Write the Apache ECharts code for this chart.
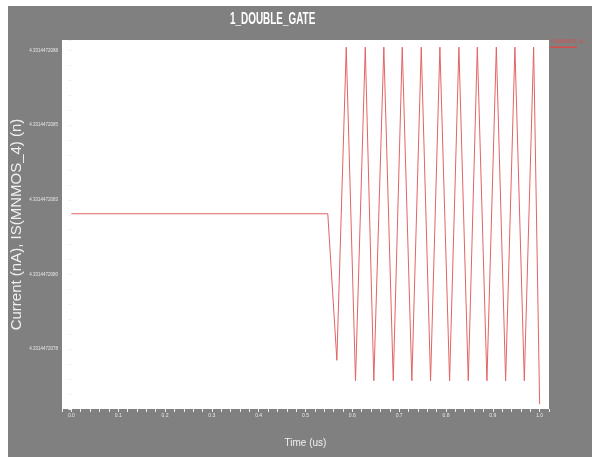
<!DOCTYPE html>
<html>
<head>
<meta charset="utf-8">
<script src="https://cdn.jsdelivr.net/npm/echarts@6/dist/echarts.min.js"></script>
<style>
html,body{margin:0;padding:0;background:#ffffff;}
#chart{position:absolute;left:8px;top:6px;width:584px;height:451px;}
</style>
</head>
<body>
<div id="chart"></div>
<script>
// Time (us)
const timeUs = [0, 0.5476, 0.567, 0.587, 0.6068, 0.6276, 0.6459, 0.6673, 0.6874, 0.7066, 0.7271,
  0.7472, 0.7671, 0.787, 0.8077, 0.8276, 0.8476, 0.8669, 0.8874, 0.9075, 0.9274, 0.9472, 0.9673, 0.9872, 1.0];
// Current (nA), IS(MNMOS_4)
const currentNA = [4.3314472082035, 4.3314472082035, 4.331447207713,
  4.331447208761, 4.3314472076445, 4.331447208761, 4.3314472076445, 4.331447208761, 4.3314472076445,
  4.331447208761, 4.3314472076445, 4.331447208761, 4.3314472076445, 4.331447208761, 4.3314472076445,
  4.331447208761, 4.3314472076445, 4.331447208761, 4.3314472076445, 4.331447208761, 4.3314472076445,
  4.331447208761, 4.3314472076445, 4.331447208761, 4.331447207566];
// tick labels
const xTickLabels = ['0.0','0.1','0.2','0.3','0.4','0.5','0.6','0.7','0.8','0.9','1.0'];
const yTickLabels = ['4.3314472078','4.3314472080','4.3314472083','4.3314472085','4.3314472088']; // bottom -> top
const seriesName = 'IS(MNMOS_4)';
const chartTitle = '1_DOUBLE_GATE';

// y values are plotted as offset from a base, in units of 1e-10 nA
const Y_BASE = 4.3314472;
const Y_UNIT = 1e-10;
const toY = v => (v - Y_BASE) / Y_UNIT;
const Y_TICK0 = 77.5, Y_STEP = 2.5;

const data = timeUs.map((t, i) => [t, toY(currentNA[i])]);

const chart = echarts.init(document.getElementById('chart'), null, {renderer: 'canvas'});
const labelColor = '#e6e6e6';
chart.setOption({
  animation: false,
  backgroundColor: '#808080',
  title: [{
    text: seriesName,
    left: 543, top: 33, padding: 0,
    textStyle: {color: '#d94c4c', fontSize: 5, fontWeight: 'normal', fontFamily: 'Liberation Sans'}
  }],
  graphic: [{
    type: 'text',
    left: 222, top: 6,
    scaleX: 0.62,
    style: {text: chartTitle, fill: '#ffffff', font: 'bold 16px "Liberation Sans", sans-serif'}
  }],
  legend: {
    left: 542, top: 40.5, padding: 0,
    icon: 'rect', itemWidth: 27, itemHeight: 1.5,
    data: [seriesName],
    formatter: () => '',
    textStyle: {fontSize: 1, padding: 0}
  },
  grid: {left: 54, top: 34, right: 43, bottom: 48, show: true, backgroundColor: '#ffffff', borderWidth: 0,
    containLabel: false, outerBoundsMode: 'none'},
  xAxis: {
    type: 'value', min: -0.02, max: 1.02, interval: 0.02,
    name: 'Time (us)', nameLocation: 'middle', nameGap: 29, nameMoveOverlap: false,
    nameTextStyle: {color: '#f0f0f0', fontFamily: 'Liberation Sans', fontSize: 10},
    axisLine: {show: false},
    splitLine: {show: false},
    axisTick: {show: true, inside: false, length: 3, lineStyle: {color: '#f0f0f0', width: 1}},
    axisLabel: {
      color: labelColor, fontSize: 5, margin: 4, fontFamily: 'Liberation Sans',
      formatter: v => {
        const k = v * 10;
        const r = Math.round(k);
        if (Math.abs(k - r) < 1e-6 && r >= 0 && r < xTickLabels.length) return xTickLabels[r];
        return '';
      }
    }
  },
  yAxis: {
    type: 'value', min: 75.5, max: 87.85, interval: 0.5,
    name: 'Current (nA), IS(MNMOS_4) (n)', nameLocation: 'middle', nameGap: 38, nameRotate: 90,
    nameMoveOverlap: false,
    nameTextStyle: {color: '#f0f0f0', fontFamily: 'Liberation Sans', fontSize: 15},
    axisLine: {show: false},
    splitLine: {show: false},
    axisTick: {show: true, inside: false, length: 3, lineStyle: {color: '#f0f0f0', width: 1}},
    axisLabel: {
      color: labelColor, fontSize: 4.5, margin: 4, fontFamily: 'Liberation Sans',
      formatter: v => {
        const k = (v - Y_TICK0) / Y_STEP;
        const r = Math.round(k);
        if (Math.abs(k - r) < 1e-6 && r >= 0 && r < yTickLabels.length) return yTickLabels[r];
        return '';
      }
    }
  },
  series: [{
    name: seriesName,
    type: 'line',
    data: data,
    showSymbol: false,
    symbol: 'none',
    lineStyle: {color: '#e36464', width: 1},
    itemStyle: {color: '#d94c4c'}
  }]
});
</script>
</body>
</html>
